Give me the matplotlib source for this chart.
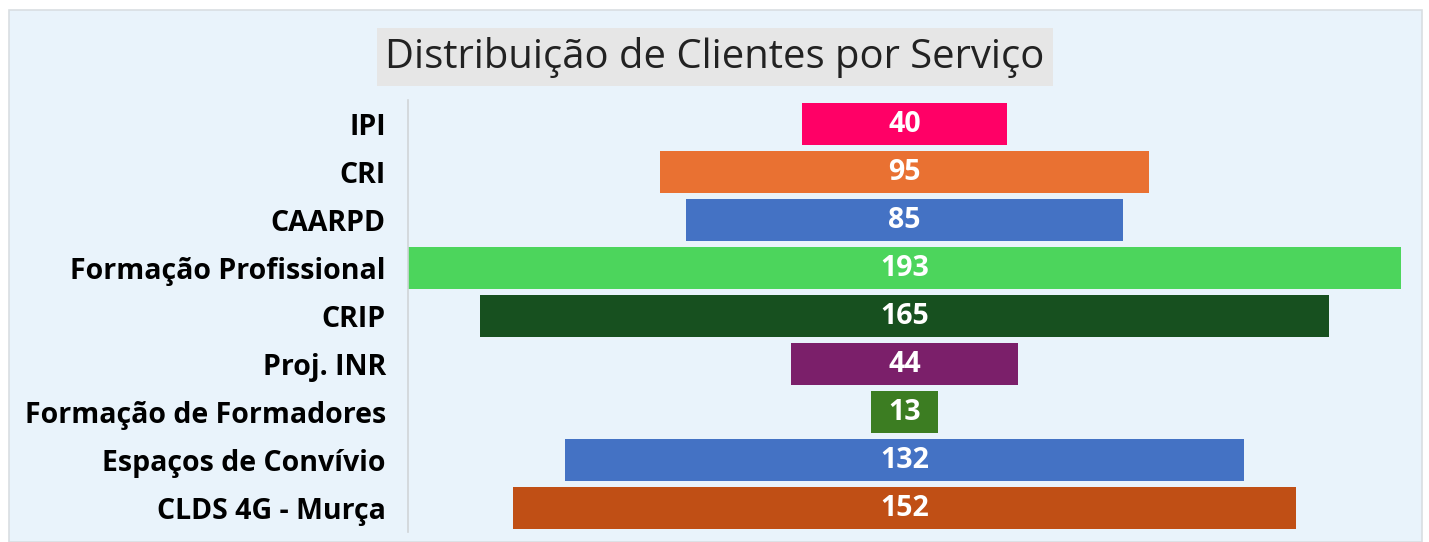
import matplotlib
matplotlib.use("Agg")
import matplotlib.pyplot as plt
from matplotlib.patches import Rectangle

categories = ["IPI", "CRI", "CAARPD", "Formação Profissional", "CRIP", "Proj. INR",
              "Formação de Formadores", "Espaços de Convívio", "CLDS 4G - Murça"]
values = [40, 95, 85, 193, 165, 44, 13, 132, 152]
colors = ["#FF0066", "#E97132", "#4472C4", "#4CD55C", "#17501F", "#7B1F6A",
          "#3C7D22", "#4472C4", "#C04F15"]
title = "Distribuição de Clientes por Serviço"

CARD = "#E9F3FB"
FONT = ["Open Sans", "DejaVu Sans"]

fig = plt.figure(figsize=(14.29, 5.42), dpi=100, facecolor="white")
fig.patches.append(Rectangle((9 / 1429, 0), 1413 / 1429, 1 - 10 / 542,
                             transform=fig.transFigure, facecolor=CARD,
                             edgecolor="#D9DEE2", linewidth=1.2, zorder=-10))

ax = fig.add_axes([408 / 1429, 1 - 532 / 542, 993 / 1429, 432 / 542])
ax.set_facecolor(CARD)
ax.patch.set_alpha(0)

ypos = list(range(len(categories)))
lefts = [-v / 2 for v in values]
bars = ax.barh(ypos, values, left=lefts, height=0.88, color=colors,
               edgecolor="none")
for y, v in zip(ypos, values):
    ax.text(0, y, str(v), ha="center", va="center", color="white",
            fontsize=20.5, fontweight="bold", family=FONT)

ax.set_xlim(-max(values) / 2, max(values) / 2)
ax.set_ylim(len(categories) - 0.5, -0.5)
ax.set_yticks(ypos)
ax.set_yticklabels(categories, fontsize=20.5, fontweight="bold", family=FONT)
ax.tick_params(axis="y", length=0, pad=16)
ax.set_xticks([])
for s in ["top", "right", "bottom"]:
    ax.spines[s].set_visible(False)
ax.spines["left"].set_color("#D0D4D8")
ax.spines["left"].set_linewidth(1.2)

fig.text(715 / 1429, 1 - 57 / 542, title, ha="center", va="center",
         fontsize=28.8, family=FONT, color="#222222",
         bbox=dict(boxstyle="square,pad=0.22", facecolor="#E6E6E6",
                   edgecolor="none"))

fig.savefig("out.png", dpi=100, facecolor="white")
